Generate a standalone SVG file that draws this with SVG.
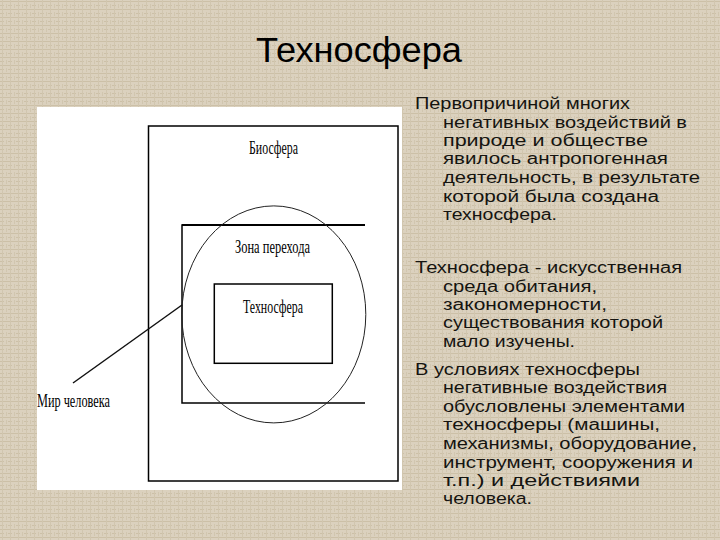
<svg xmlns="http://www.w3.org/2000/svg" width="720" height="540" viewBox="0 0 720 540">
<defs>
<pattern id="tex" width="8" height="8" patternUnits="userSpaceOnUse">
<rect width="8" height="8" fill="#dbd1be"/>
<path d="M0 1.5H8M0 5.5H4" stroke="#ccc0a7" stroke-width="1"/>
<path d="M2.5 0V8M6.5 4V8" stroke="#d1c6af" stroke-width="1"/>
</pattern>
<style>
.d{fill:none;stroke:#000;stroke-width:1.5}
.lbl{font-family:"Liberation Serif","DejaVu Serif",serif;font-size:18px;fill:#000}
.t{font-family:"Liberation Sans",Arial,sans-serif;font-size:16px;fill:#151410}
.title{font-family:"Liberation Sans",Arial,sans-serif;font-size:35px;fill:#000}
</style>
</defs>
<rect width="720" height="540" fill="url(#tex)"/>
<text class="title" x="256" y="62" textLength="206" lengthAdjust="spacingAndGlyphs">Техносфера</text>
<rect x="37" y="107" width="365" height="383" fill="#fff"/>

<g id="biosphere">
<rect class="d" x="148.5" y="126" width="249.5" height="355" stroke-width="1.8"/>
<text class="lbl" x="249" y="154" textLength="49" lengthAdjust="spacingAndGlyphs">Биосфера</text>
</g>
<g id="transition-zone">
<path class="d" d="M365 225H182V403H365" stroke-width="1.5"/>
<path d="M182 225H365" stroke="#000" stroke-width="2.2" fill="none"/>
<ellipse cx="273.8" cy="314.4" rx="92" ry="108.5" fill="none" stroke="#222" stroke-width="1"/>
<text class="lbl" x="235" y="253" textLength="75" lengthAdjust="spacingAndGlyphs">Зона перехода</text>
</g>
<g id="technosphere">
<rect class="d" x="214.3" y="284" width="118" height="79.3" stroke-width="1.3"/>
<text class="lbl" x="243" y="313" textLength="60" lengthAdjust="spacingAndGlyphs">Техносфера</text>
</g>
<g id="human-world">
<text class="lbl" x="37" y="407" textLength="73" lengthAdjust="spacingAndGlyphs">Мир человека</text>
</g>
<g id="connectors">
<line x1="73" y1="383" x2="182" y2="305" stroke="#111" stroke-width="1.5"/>
</g>

<g id="text-right">
<text class="t" x="415" y="109" textLength="215" lengthAdjust="spacingAndGlyphs">Первопричиной многих</text>
<text class="t" x="443" y="128" textLength="244" lengthAdjust="spacingAndGlyphs">негативных воздействий в</text>
<text class="t" x="443" y="146" textLength="205" lengthAdjust="spacingAndGlyphs">природе и обществе</text>
<text class="t" x="443" y="164" textLength="225" lengthAdjust="spacingAndGlyphs">явилось антропогенная</text>
<text class="t" x="443" y="183" textLength="257" lengthAdjust="spacingAndGlyphs">деятельность, в результате</text>
<text class="t" x="443" y="202" textLength="216" lengthAdjust="spacingAndGlyphs">которой была создана</text>
<text class="t" x="443" y="220" textLength="114" lengthAdjust="spacingAndGlyphs">техносфера.</text>

<text class="t" x="415" y="273" textLength="267" lengthAdjust="spacingAndGlyphs">Техносфера - искусственная</text>
<text class="t" x="443" y="292" textLength="154" lengthAdjust="spacingAndGlyphs">среда обитания,</text>
<text class="t" x="443" y="310" textLength="164" lengthAdjust="spacingAndGlyphs">закономерности,</text>
<text class="t" x="443" y="328" textLength="220" lengthAdjust="spacingAndGlyphs">существования которой</text>
<text class="t" x="443" y="347" textLength="132" lengthAdjust="spacingAndGlyphs">мало изучены.</text>
<text class="t" x="415" y="375" textLength="225" lengthAdjust="spacingAndGlyphs">В условиях техносферы</text>
<text class="t" x="443" y="393" textLength="224" lengthAdjust="spacingAndGlyphs">негативные воздействия</text>
<text class="t" x="443" y="412" textLength="242" lengthAdjust="spacingAndGlyphs">обусловлены элементами</text>
<text class="t" x="443" y="430" textLength="217" lengthAdjust="spacingAndGlyphs">техносферы (машины,</text>
<text class="t" x="443" y="449" textLength="254" lengthAdjust="spacingAndGlyphs">механизмы, оборудование,</text>
<text class="t" x="443" y="468" textLength="250" lengthAdjust="spacingAndGlyphs">инструмент, сооружения и</text>
<text class="t" x="443" y="486" textLength="197" lengthAdjust="spacingAndGlyphs">т.п.) и действиями</text>
<text class="t" x="443" y="504" textLength="89" lengthAdjust="spacingAndGlyphs">человека.</text>
</g>
</svg>
